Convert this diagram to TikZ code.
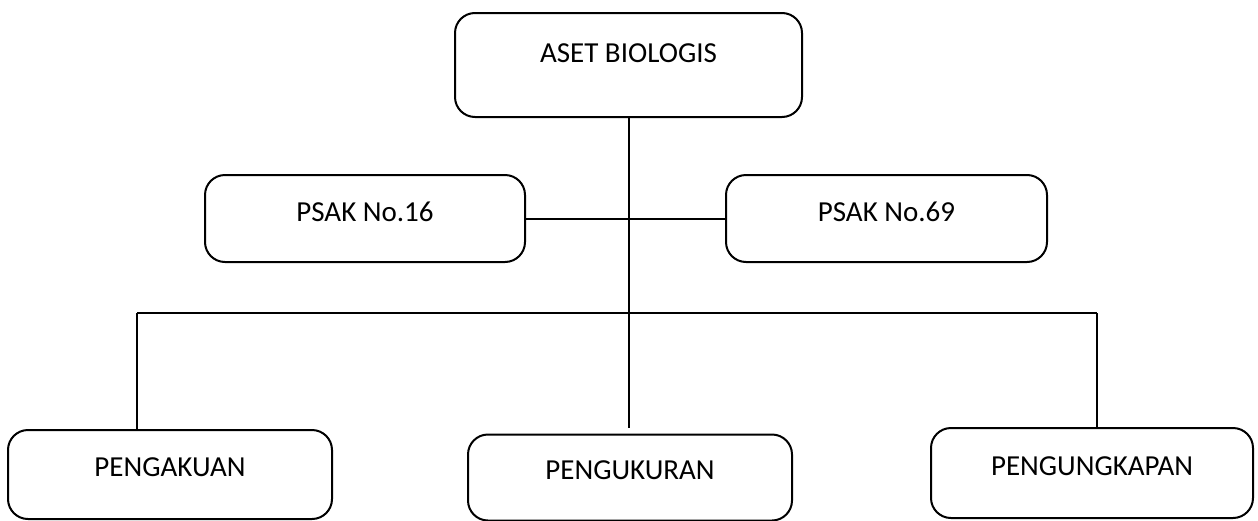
\documentclass[tikz,border=0pt]{standalone}
\usepackage{fontspec}
\setmainfont{Carlito}
\usetikzlibrary{calc}

\begin{document}
\begin{tikzpicture}[
        x=0.5pt, y=-0.5pt,
        kotak/.style={draw, line width=1pt, rounded corners=10pt, inner sep=0pt,
            font=\fontsize{14.5}{17}\selectfont},
        garis/.style={line width=1pt}
    ]

% Batas gambar
        \useasboundingbox[fill=white] (0,0) rectangle (1258,520);

% Kotak atas
        \node[kotak, minimum width=173.5pt, minimum height=52pt, text depth=12pt] (aset) at (628.5,65) {ASET BIOLOGIS};

% Kotak PSAK
        \node[kotak, minimum width=160pt, minimum height=43.5pt, text depth=6.5pt] (psak16) at (365,218.5) {PSAK No.16};
        \node[kotak, minimum width=160.5pt, minimum height=43.5pt, text depth=6.5pt] (psak69) at (886.5,218.5) {PSAK No.69};

% Kotak bawah
        \node[kotak, minimum width=162pt, minimum height=44.5pt, text depth=7pt] (pengakuan) at (170,474.5) {PENGAKUAN};
        \node[kotak, minimum width=162pt, minimum height=43pt, text depth=7pt] (pengukuran) at (630,477.5) {PENGUKURAN};
        \node[kotak, minimum width=161pt, minimum height=45pt, text depth=7pt] (pengungkapan) at (1092,473) {PENGUNGKAPAN};

% Titik bantu garis
        \coordinate (busL) at (137,313);
        \coordinate (busR) at (1097,313);
        \coordinate (ujung) at (629,428);

% Garis penghubung
        \draw[garis] (aset.south) -- (aset.south |- ujung);
        \draw[garis] (psak16.east) -- (psak69.west);
        \draw[garis] (busL) -- (busR);
        \draw[garis] (busL) -- (busL |- pengakuan.north);
        \draw[garis] (busR) -- (busR |- pengungkapan.north);
    \end{tikzpicture}
\end{document}
